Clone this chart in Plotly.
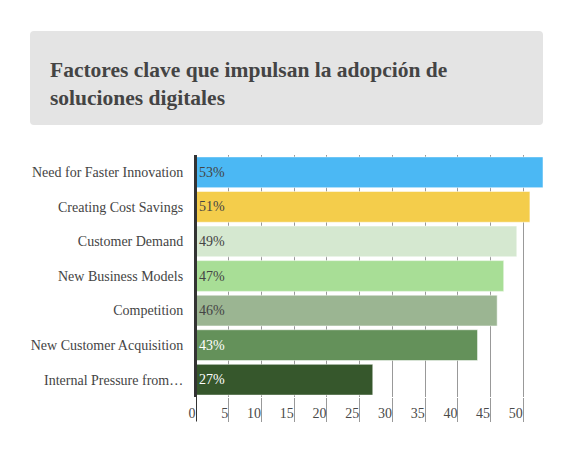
import plotly.graph_objects as go

factors = [
    "Need for Faster Innovation",
    "Creating Cost Savings",
    "Customer Demand",
    "New Business Models",
    "Competition",
    "New Customer Acquisition",
    "Internal Pressure from…",
]
shares = [53, 51, 49, 47, 46, 43, 27]
bar_colors = ["#4bb8f4", "#f4cd4b", "#d5e8d0", "#a8de96", "#9bb592", "#64915a", "#36572c"]
label_colors = ["#444444", "#444444", "#444444", "#444444", "#444444", "#ffffff", "#ffffff"]
x_ticks = [0, 5, 10, 15, 20, 25, 30, 35, 40, 45, 50]

serif = "Liberation Serif, DejaVu Serif, serif"

# page body has an 8px margin, so the figure is a little smaller than the window
W, H = 565, 446
L, R, T, B = 188, 30, 147, 57
pw, ph = W - L - R, H - T - B


def px_x(v):
    return (v - 8 - L) / pw


def px_y(v):
    return (H - B + 8 - v) / ph


fig = go.Figure()
fig.add_trace(
    go.Bar(
        x=shares,
        y=factors,
        orientation="h",
        marker=dict(color=bar_colors, line=dict(color="rgba(255,255,255,0.5)", width=1)),
        text=[f"{v}%" for v in shares],
        textposition="inside",
        insidetextanchor="start",
        textfont=dict(family=serif, size=14, color=label_colors),
        hoverinfo="skip",
    )
)

# rounded grey box behind the title
x0, x1, y0, y1 = px_x(30), px_x(543), px_y(125), px_y(31)
rx, ry = 4 / pw, 4 / ph
box = (
    f"M {x0},{y0 + ry} L {x0},{y1 - ry} Q {x0},{y1} {x0 + rx},{y1} "
    f"L {x1 - rx},{y1} Q {x1},{y1} {x1},{y1 - ry} "
    f"L {x1},{y0 + ry} Q {x1},{y0} {x1 - rx},{y0} "
    f"L {x0 + rx},{y0} Q {x0},{y0} {x0},{y0 + ry} Z"
)
fig.add_shape(type="path", xref="paper", yref="paper", path=box,
              fillcolor="#e4e4e4", line=dict(width=0), layer="below")

# axis line continues down past the plot, beside the tick labels
fig.add_shape(
    type="line",
    xref="x", yref="paper",
    x0=0, x1=0, y0=px_y(421), y1=1,
    line=dict(color="#333333", width=2),
)

fig.update_layout(
    width=W,
    height=H,
    margin=dict(l=L, r=R, t=T, b=B),
    paper_bgcolor="white",
    plot_bgcolor="white",
    showlegend=False,
    bargap=0.11,
    font=dict(family=serif, size=14, color="#444444"),
    title=dict(
        text="<b>Factores clave que impulsan la adopción de<br>soluciones digitales</b>",
        x=(50 - 8) / W,
        xanchor="left",
        y=1 - (77 - 8) / H,
        yanchor="middle",
        font=dict(family=serif, size=21.5, color="#444444"),
    ),
    xaxis=dict(
        range=[0, 53],
        tickvals=x_ticks,
        ticks="outside",
        ticklen=24,
        tickcolor="#999999",
        ticklabelposition="outside left",
        ticklabelstandoff=3,
        showgrid=True,
        gridcolor="#999999",
        gridwidth=1,
        zeroline=False,
        showline=False,
        tickfont=dict(size=14, color="#4a4a4a"),
    ),
    yaxis=dict(
        autorange="reversed",
        showline=True,
        linecolor="#333333",
        linewidth=2,
        ticks="",
        ticklabelstandoff=8,
        showgrid=False,
        tickfont=dict(size=14, color="#444444"),
    ),
)

fig.write_html("out.html")
